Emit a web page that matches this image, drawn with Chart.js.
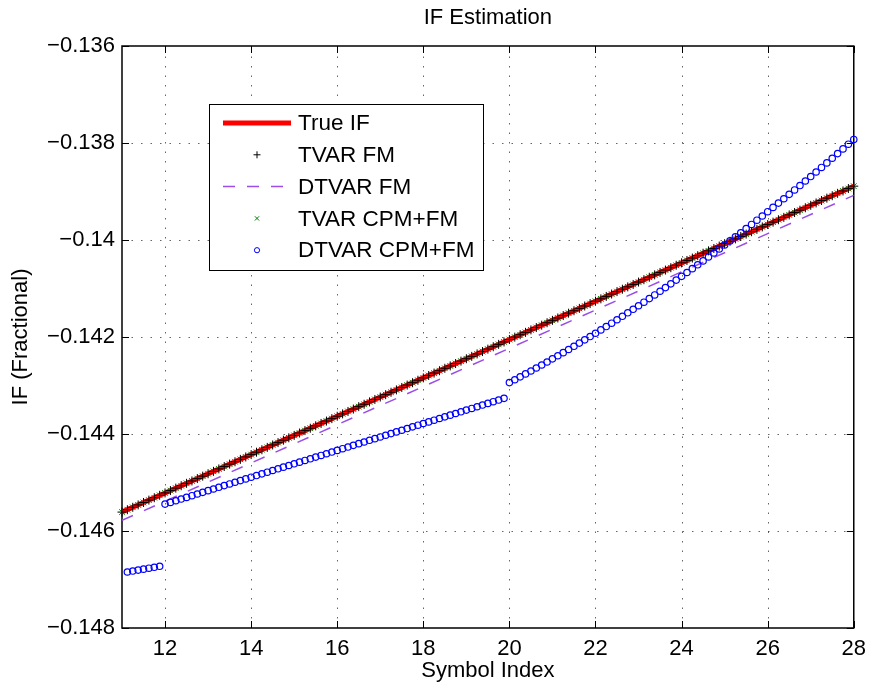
<!DOCTYPE html>
<html>
<head>
<meta charset="utf-8">
<title>IF Estimation</title>
<script src="https://cdn.jsdelivr.net/npm/chart.js@4.4.1/dist/chart.umd.min.js"></script>
<style>
  body { margin: 0; background: #fff; }
</style>
</head>
<body>
<canvas id="ifChart" width="874" height="689"></canvas>
<script>
// --- data ---
// estimates are sampled 8 times per symbol, from symbol 11 to 28
const firstSymbol = 11;
const samplesPerSymbol = 8;

const xTicks = [12, 14, 16, 18, 20, 22, 24, 26, 28];
const yTicks = [-0.148, -0.146, -0.144, -0.142, -0.14, -0.138, -0.136];

// true IF and DTVAR FM are straight lines, one value per symbol
const symbols = [11, 12, 13, 14, 15, 16, 17, 18, 19, 20, 21, 22, 23, 24, 25, 26, 27, 28];
const trueIf = [
  -0.145610, -0.145215, -0.144819, -0.144424, -0.144029, -0.143634, -0.143238, -0.142843, -0.142448,
  -0.142052, -0.141657, -0.141262, -0.140867, -0.140471, -0.140076, -0.139681, -0.139285, -0.138890
];
const dtvarFm = [
  -0.145780, -0.145386, -0.144992, -0.144598, -0.144204, -0.143809, -0.143415, -0.143021, -0.142627,
  -0.142233, -0.141839, -0.141445, -0.141051, -0.140656, -0.140262, -0.139868, -0.139474, -0.139080
];

// TVAR FM, one row per symbol
const tvarFm = [
  -0.145610, -0.145561, -0.145511, -0.145462, -0.145412, -0.145363, -0.145314, -0.145264,
  -0.145215, -0.145166, -0.145116, -0.145067, -0.145017, -0.144968, -0.144919, -0.144869,
  -0.144819, -0.144770, -0.144720, -0.144671, -0.144621, -0.144572, -0.144523, -0.144473,
  -0.144424, -0.144375, -0.144325, -0.144276, -0.144226, -0.144177, -0.144128, -0.144078,
  -0.144029, -0.143980, -0.143930, -0.143881, -0.143831, -0.143782, -0.143733, -0.143683,
  -0.143634, -0.143585, -0.143535, -0.143486, -0.143436, -0.143387, -0.143338, -0.143288,
  -0.143238, -0.143189, -0.143139, -0.143090, -0.143040, -0.142991, -0.142942, -0.142892,
  -0.142843, -0.142794, -0.142744, -0.142695, -0.142645, -0.142596, -0.142547, -0.142497,
  -0.142448, -0.142399, -0.142349, -0.142300, -0.142250, -0.142201, -0.142152, -0.142102,
  -0.142052, -0.142003, -0.141953, -0.141904, -0.141854, -0.141805, -0.141756, -0.141706,
  -0.141657, -0.141608, -0.141558, -0.141509, -0.141459, -0.141410, -0.141361, -0.141311,
  -0.141262, -0.141213, -0.141163, -0.141114, -0.141064, -0.141015, -0.140966, -0.140916,
  -0.140867, -0.140818, -0.140768, -0.140719, -0.140669, -0.140620, -0.140571, -0.140521,
  -0.140471, -0.140422, -0.140372, -0.140323, -0.140273, -0.140224, -0.140175, -0.140125,
  -0.140076, -0.140027, -0.139977, -0.139928, -0.139878, -0.139829, -0.139780, -0.139730,
  -0.139681, -0.139632, -0.139582, -0.139533, -0.139483, -0.139434, -0.139385, -0.139335,
  -0.139285, -0.139236, -0.139186, -0.139137, -0.139087, -0.139038, -0.138989, -0.138939,
  -0.138890
];

// TVAR CPM+FM sits right on top of TVAR FM in the figure
const tvarCpmFm = tvarFm.slice();

// DTVAR CPM+FM, jumps at symbols 12 and 20
const dtvarCpmFm = [
  null,      -0.146845, -0.146826, -0.146806, -0.146787, -0.146767, -0.146748, -0.146728,
  -0.145445, -0.145410, -0.145376, -0.145341, -0.145307, -0.145272, -0.145237, -0.145203,
  -0.145168, -0.145134, -0.145099, -0.145064, -0.145030, -0.144995, -0.144961, -0.144926,
  -0.144891, -0.144857, -0.144822, -0.144788, -0.144753, -0.144718, -0.144684, -0.144649,
  -0.144614, -0.144580, -0.144545, -0.144511, -0.144476, -0.144442, -0.144407, -0.144372,
  -0.144338, -0.144303, -0.144269, -0.144234, -0.144199, -0.144165, -0.144130, -0.144096,
  -0.144061, -0.144026, -0.143992, -0.143957, -0.143923, -0.143888, -0.143853, -0.143819,
  -0.143784, -0.143750, -0.143715, -0.143680, -0.143646, -0.143611, -0.143577, -0.143542,
  -0.143507, -0.143473, -0.143438, -0.143403, -0.143369, -0.143334, -0.143300, -0.143265,
  -0.142940, -0.142881, -0.142822, -0.142761, -0.142701, -0.142639, -0.142577, -0.142515,
  -0.142451, -0.142387, -0.142323, -0.142258, -0.142192, -0.142126, -0.142059, -0.141991,
  -0.141923, -0.141854, -0.141785, -0.141715, -0.141644, -0.141573, -0.141501, -0.141429,
  -0.141356, -0.141282, -0.141208, -0.141133, -0.141057, -0.140981, -0.140904, -0.140827,
  -0.140749, -0.140670, -0.140591, -0.140511, -0.140431, -0.140350, -0.140268, -0.140185,
  -0.140103, -0.140019, -0.139935, -0.139850, -0.139765, -0.139679, -0.139592, -0.139505,
  -0.139417, -0.139328, -0.139239, -0.139150, -0.139059, -0.138968, -0.138877, -0.138784,
  -0.138692, -0.138598, -0.138504, -0.138410, -0.138314, -0.138219, -0.138122, -0.138025,
  -0.137927
];

const symbolIndex = tvarFm.map((_, i) => firstSymbol + i / samplesPerSymbol);
const toPoints = (xs, ys) => xs.map((x, i) => ({ x: x, y: ys[i] }));

const FONT = "'Liberation Sans', Arial, Helvetica, sans-serif";
Chart.defaults.font.family = FONT;
Chart.defaults.color = '#000';

// ------------------ matlab style axes: dotted grid, box, inner ticks ------------------
const matlabAxes = {
  id: 'matlabAxes',
  beforeDatasetsDraw(chart) {
    const { ctx, chartArea: a, scales } = chart;
    ctx.save();
    ctx.strokeStyle = 'rgba(0,0,0,0.6)';
    ctx.lineWidth = 1;
    ctx.setLineDash([1.5, 8]);
    xTicks.forEach(v => {
      const px = Math.round(scales.x.getPixelForValue(v)) + 0.5;
      if (px <= a.left + 1 || px >= a.right - 1) return;
      ctx.beginPath(); ctx.moveTo(px, a.bottom); ctx.lineTo(px, a.top); ctx.stroke();
    });
    yTicks.forEach(v => {
      const py = Math.round(scales.y.getPixelForValue(v)) + 0.5;
      if (py <= a.top + 1 || py >= a.bottom - 1) return;
      ctx.beginPath(); ctx.moveTo(a.left, py); ctx.lineTo(a.right, py); ctx.stroke();
    });
    ctx.setLineDash([]);
    ctx.strokeStyle = '#000';
    ctx.lineWidth = 1.5;
    ctx.strokeRect(a.left, a.top, a.right - a.left, a.bottom - a.top);
    const t = 7;
    ctx.lineWidth = 1;
    ctx.beginPath();
    xTicks.forEach(v => {
      const px = Math.round(scales.x.getPixelForValue(v)) + 0.5;
      ctx.moveTo(px, a.bottom); ctx.lineTo(px, a.bottom - t);
      ctx.moveTo(px, a.top); ctx.lineTo(px, a.top + t);
    });
    yTicks.forEach(v => {
      const py = Math.round(scales.y.getPixelForValue(v)) + 0.5;
      ctx.moveTo(a.left, py); ctx.lineTo(a.left + t, py);
      ctx.moveTo(a.right, py); ctx.lineTo(a.right - t, py);
    });
    ctx.stroke();
    ctx.restore();
  }
};

// ------------------ legend box inside the axes ------------------
const boxLegend = {
  id: 'boxLegend',
  afterDatasetsDraw(chart) {
    const { ctx, chartArea: a } = chart;
    const lx = a.left + 87, ly = a.top + 58, lw = 274, lh = 166;
    ctx.save();
    ctx.fillStyle = '#fff';
    ctx.fillRect(lx, ly, lw, lh);
    ctx.strokeStyle = '#000';
    ctx.lineWidth = 1;
    ctx.strokeRect(lx + 0.5, ly + 0.5, lw, lh);
    chart.data.datasets.forEach((ds, i) => {
      const y = ly + 19 + i * 31.8;
      const x0 = lx + 14, x1 = lx + 82;
      ctx.save();
      if (ds.showLine) {
        ctx.strokeStyle = ds.borderColor;
        ctx.lineWidth = ds.borderWidth;
        ctx.setLineDash(ds.borderDash || []);
        ctx.beginPath(); ctx.moveTo(x0, y); ctx.lineTo(x1, y); ctx.stroke();
      } else {
        ctx.strokeStyle = ds.borderColor;
        ctx.fillStyle = ds.backgroundColor || 'rgba(0,0,0,0)';
        Chart.helpers.drawPoint(ctx, {
          pointStyle: ds.pointStyle, radius: ds.legendRadius, borderWidth: ds.borderWidth, rotation: 0
        }, (x0 + x1) / 2, y);
      }
      ctx.restore();
      ctx.fillStyle = '#000';
      ctx.font = '22.5px ' + FONT;
      ctx.textBaseline = 'middle';
      ctx.fillText(ds.label, lx + 89, y + 1);
    });
    ctx.restore();
  }
};

new Chart(document.getElementById('ifChart'), {
  type: 'scatter',
  data: {
    datasets: [
      {
        label: 'True IF',
        data: toPoints(symbols, trueIf),
        showLine: true,
        borderColor: '#ff0000',
        borderWidth: 5,
        pointRadius: 0,
        order: 5
      },
      {
        label: 'TVAR FM',
        data: toPoints(symbolIndex, tvarFm),
        pointStyle: 'cross',
        pointRadius: 4.5,
        legendRadius: 3.5,
        borderColor: '#000000',
        borderWidth: 1,
        order: 2,
        clip: false
      },
      {
        label: 'DTVAR FM',
        data: toPoints(symbols, dtvarFm),
        showLine: true,
        borderColor: '#9b4de8',
        borderWidth: 1.5,
        borderDash: [12, 12],
        pointRadius: 0,
        order: 3
      },
      {
        label: 'TVAR CPM+FM',
        data: toPoints(symbolIndex, tvarCpmFm),
        pointStyle: 'crossRot',
        pointRadius: 4,
        legendRadius: 3,
        borderColor: '#008000',
        borderWidth: 1,
        order: 6,
        clip: false
      },
      {
        label: 'DTVAR CPM+FM',
        data: toPoints(symbolIndex, dtvarCpmFm),
        pointStyle: 'circle',
        pointRadius: 3.2,
        legendRadius: 2.6,
        borderColor: '#0000ff',
        backgroundColor: 'rgba(0,0,0,0)',
        borderWidth: 1.2,
        order: 1,
        clip: false
      }
    ]
  },
  options: {
    responsive: false,
    animation: false,
    events: [],
    layout: { padding: { left: 0, right: 16, top: 0, bottom: 0 } },
    plugins: {
      legend: { display: false },
      tooltip: { enabled: false },
      title: {
        display: true,
        text: 'IF Estimation',
        fullSize: false,
        color: '#000',
        font: { size: 22, weight: 'normal' },
        padding: { top: 5, bottom: 14.6 }
      }
    },
    scales: {
      x: {
        type: 'linear',
        min: 11,
        max: 28,
        afterBuildTicks: s => { s.ticks = xTicks.map(v => ({ value: v })); },
        afterFit: s => { s.height = 61; },
        grid: { display: false, drawTicks: false },
        border: { display: false },
        ticks: { font: { size: 22 }, color: '#000', padding: 8, maxRotation: 0, autoSkip: false },
        title: { display: true, text: 'Symbol Index', font: { size: 22 }, color: '#000', padding: { top: 0, bottom: 5 } }
      },
      y: {
        type: 'linear',
        min: -0.148,
        max: -0.136,
        afterBuildTicks: s => { s.ticks = yTicks.map(v => ({ value: v })); },
        afterFit: s => { s.width = 122; },
        grid: { display: false, drawTicks: false },
        border: { display: false },
        ticks: {
          font: { size: 22 },
          color: '#000',
          padding: 7,
          autoSkip: false,
          callback: v => '\u2212' + String(Math.abs(Number(v.toFixed(3))))
        },
        title: { display: true, text: 'IF (Fractional)', font: { size: 22 }, color: '#000', padding: { top: 8, bottom: 0 } }
      }
    }
  },
  plugins: [matlabAxes, boxLegend]
});
</script>
</body>
</html>
